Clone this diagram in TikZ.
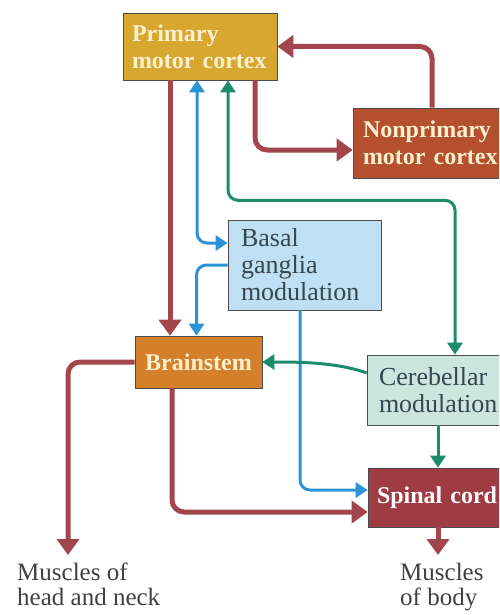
\documentclass[tikz,border=0pt]{standalone}
\usepackage{fontspec}
\setmainfont{Liberation Serif}
\usepackage{tikz}
\usetikzlibrary{arrows.meta}

\definecolor{primfill}{HTML}{D8A730}
\definecolor{nonprimfill}{HTML}{B5502E}
\definecolor{bgfill}{HTML}{BFE0F3}
\definecolor{bsfill}{HTML}{D4802A}
\definecolor{cbfill}{HTML}{CBE6DC}
\definecolor{scfill}{HTML}{9E3B43}
\definecolor{redline}{HTML}{A3454C}
\definecolor{blueline}{HTML}{2B93D6}
\definecolor{greenline}{HTML}{1C8C6C}
\definecolor{lighttext}{HTML}{FCF0CF}
\definecolor{darktext}{HTML}{36474F}

\begin{document}
\begin{tikzpicture}[x=1pt, y=1pt,
		box/.style={draw=black!70, line width=0.6pt, align=left, inner ysep=0pt},
		boldbox/.style={box, text=lighttext, font=\fontsize{24}{27}\selectfont\bfseries},
		plainbox/.style={box, text=darktext, font=\fontsize{26}{27}\selectfont},
		muscle/.style={align=left, inner sep=2pt, anchor=north west, text=black!75,
			font=\fontsize{25}{25}\selectfont},
		redarrow/.style={draw=redline, line width=5pt, rounded corners=12pt,
			-{Triangle[width=22pt, length=16pt]}},
		bluearrow/.style={draw=blueline, line width=3pt, rounded corners=10pt,
			-{Triangle[width=15pt, length=12pt]}},
		greenarrow/.style={draw=greenline, line width=3pt, rounded corners=10pt,
			-{Triangle[width=15pt, length=12pt]}}
	]
	
	\useasboundingbox (0,0) rectangle (499,-615);
	\clip (0,0) rectangle (499,-615);
	
	%boxes
	\node[boldbox, fill=primfill, text width=136pt, inner xsep=9pt, minimum height=67pt] (prim) at (200,-46.5) {Primary\\motor cortex};
	\node[boldbox, fill=nonprimfill, text width=142pt, inner xsep=10pt, minimum height=70pt] (nonprim) at (434,-143) {Nonprimary\\motor cortex};
	\node[plainbox, fill=bgfill, text width=127pt, inner xsep=13pt, minimum height=90pt] (bg) at (304.5,-265) {Basal\\ganglia\\modulation};
	\node[boldbox, fill=bsfill, align=center, minimum width=127pt, minimum height=52pt] (bs) at (198.5,-362) {Brainstem};
	\node[plainbox, fill=cbfill, text width=130pt, inner xsep=12pt, minimum height=70pt] (cb) at (444,-390) {Cerebellar\\modulation};
	\node[boldbox, text=white, fill=scfill, text width=128pt, inner xsep=9pt, minimum height=59pt] (sc) at (441,-497.5) {Spinal cord};
	
	%targets
	\node[muscle] (mhead) at (15,-561) {Muscles of\\head and neck};
	\node[muscle] (mbody) at (398,-561) {Muscles\\of body};
	
	%red pathways
	\draw[redarrow] ([xshift=-30pt]prim.south) -- ([xshift=-30pt]prim.south |- bs.north);
	\draw[redarrow] ([xshift=55pt]prim.south) |- ([yshift=-7pt]nonprim.west);
	\draw[redarrow] ([xshift=-2pt]nonprim.north) |- (prim.east);
	\draw[redarrow] (bs.west) -| ([xshift=53pt, yshift=6pt]mhead.north west);
	\draw[redarrow] ([xshift=-26.5pt]bs.south) |- ([yshift=-14.5pt]sc.west);
	\draw[redarrow, shorten >=6pt] ([xshift=-3pt]sc.south) -- ([xshift=-3pt]sc.south |- mbody.north);
	
	%basal ganglia loop
	\draw[bluearrow, {Triangle[width=15pt, length=12pt]}-{Triangle[width=15pt, length=12pt]}] ([xshift=-3pt]prim.south) |- ([yshift=22pt]bg.west);
	\draw[bluearrow] (bg.west) -| ([xshift=-2pt]bs.north);
	\draw[bluearrow] ([xshift=-4.5pt]bg.south) |- ([yshift=7.5pt]sc.west);
	
	%cerebellar loop
	\draw[greenarrow, {Triangle[width=15pt, length=12pt]}-{Triangle[width=15pt, length=12pt]}] ([xshift=28pt]prim.south) -- ++(0,-120) -| ([xshift=11pt]cb.north);
	\draw[greenarrow] ([yshift=17pt]cb.west) to[out=160, in=0, looseness=0.8] (bs.east);
	\draw[greenarrow] ([xshift=-6pt]cb.south) -- ([xshift=-6pt]cb.south |- sc.north);
\end{tikzpicture}
\end{document}
